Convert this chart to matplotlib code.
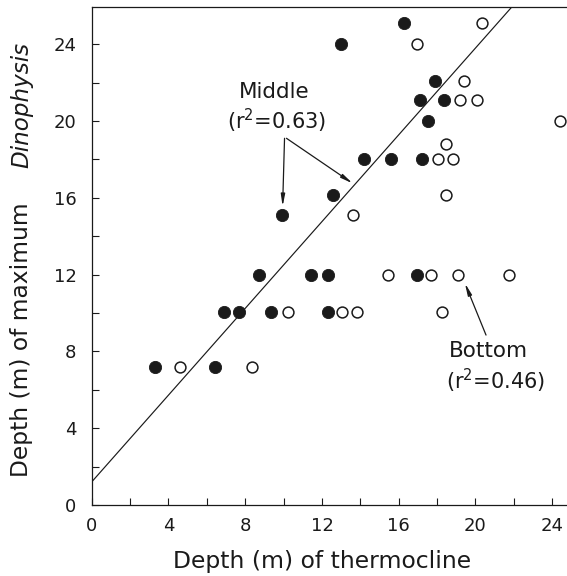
import matplotlib
matplotlib.use("Agg")
import matplotlib.pyplot as plt
from matplotlib.ticker import MultipleLocator

# Middle (filled) observations
mid_x = [16.3, 13.0, 17.9, 17.1, 18.35, 17.55, 14.2, 15.6, 17.2, 12.55, 9.9,
         8.7, 11.45, 12.3, 16.95, 6.9, 7.7, 9.35, 12.3, 3.3, 6.45]
mid_y = [25.1, 24.0, 22.1, 21.1, 21.1, 20.0, 18.0, 18.0, 18.0, 16.15, 15.1,
         12.0, 12.0, 12.0, 12.0, 10.05, 10.05, 10.05, 10.05, 7.2, 7.2]

# Bottom (open) observations
bot_x = [20.35, 16.95, 19.4, 19.2, 20.1, 24.4, 18.45, 18.05, 18.85, 18.45, 13.6,
         15.45, 17.7, 19.1, 21.75, 10.25, 13.05, 13.85, 18.25, 4.6, 8.35]
bot_y = [25.1, 24.0, 22.1, 21.1, 21.1, 20.0, 18.8, 18.0, 18.0, 16.15, 15.1,
         12.0, 12.0, 12.0, 12.0, 10.05, 10.05, 10.05, 10.05, 7.2, 7.2]

# regression line (middle)
reg_intercept = 1.2
reg_slope = 1.13
reg_x = [0.0, 21.95]

x_ticks = [0, 4, 8, 12, 16, 20, 24]
y_ticks = [0, 4, 8, 12, 16, 20, 24]

fig = plt.figure(figsize=(5.67, 5.76), dpi=100)
ax = fig.add_axes([0.1617, 0.1233, 0.8383, 0.8646])
ax.set_xlim(0, 24.77)
ax.set_ylim(0, 25.94)

col = '#1a1a1a'
ax.plot(reg_x, [reg_intercept + reg_slope * v for v in reg_x], color=col, lw=0.85,
        solid_capstyle='butt', zorder=2)
ax.plot(mid_x, mid_y, 'o', ms=8.8, mfc=col, mec=col, mew=0.6, ls='none', zorder=3)
ax.plot(bot_x, bot_y, 'o', ms=7.8, mfc='white', mec=col, mew=1.1, ls='none', zorder=3)

for s in ['left', 'bottom', 'top']:
    ax.spines[s].set_color(col)
    ax.spines[s].set_linewidth(0.9)
ax.spines['right'].set_visible(False)

ax.xaxis.set_major_locator(MultipleLocator(4))
ax.xaxis.set_minor_locator(MultipleLocator(2))
ax.yaxis.set_major_locator(MultipleLocator(4))
ax.yaxis.set_minor_locator(MultipleLocator(2))
ax.set_xticks(x_ticks)
ax.set_yticks(y_ticks)
ax.set_xticklabels([str(v) for v in x_ticks])
ax.set_yticklabels([str(v) for v in y_ticks])
ax.tick_params(which='both', direction='in', length=5, width=0.8, color=col,
               top=False, right=False)
ax.tick_params(axis='x', which='major', pad=9, labelsize=13, labelcolor=col)
ax.tick_params(axis='y', which='major', pad=11, labelsize=13, labelcolor=col)

ax.text(12, -2.95, 'Depth (m) of thermocline', ha='center', va='center',
        fontsize=16.9, color=col, clip_on=False)
fig.text(22 / 567, 1 - 339.5 / 576, 'Depth (m) of maximum', rotation=90,
         ha='center', va='center', fontsize=16.8, color=col)
fig.text(22 / 567, 1 - 105 / 576, 'Dinophysis', rotation=90, style='italic',
         ha='center', va='center', fontsize=16.6, color=col)

ax.text(9.5, 21.5, 'Middle', ha='center', va='center', fontsize=15.5, color=col)
ax.text(9.65, 20.0, '(r$^2$=0.63)', ha='center', va='center', fontsize=15, color=col)
ax.text(20.7, 8.0, 'Bottom', ha='center', va='center', fontsize=15.5, color=col)
ax.text(21.05, 6.45, '(r$^2$=0.46)', ha='center', va='center', fontsize=15, color=col)

arw = dict(arrowstyle='-|>,head_length=0.7,head_width=0.12', color=col, lw=0.9,
           shrinkA=0, shrinkB=0)
ax.annotate('', xy=(9.95, 15.55), xytext=(10.05, 19.1), arrowprops=arw)
ax.annotate('', xy=(13.6, 16.75), xytext=(10.15, 19.1), arrowprops=arw)
ax.annotate('', xy=(19.45, 11.55), xytext=(20.55, 8.85), arrowprops=arw)

fig.savefig('out.png', dpi=100)
